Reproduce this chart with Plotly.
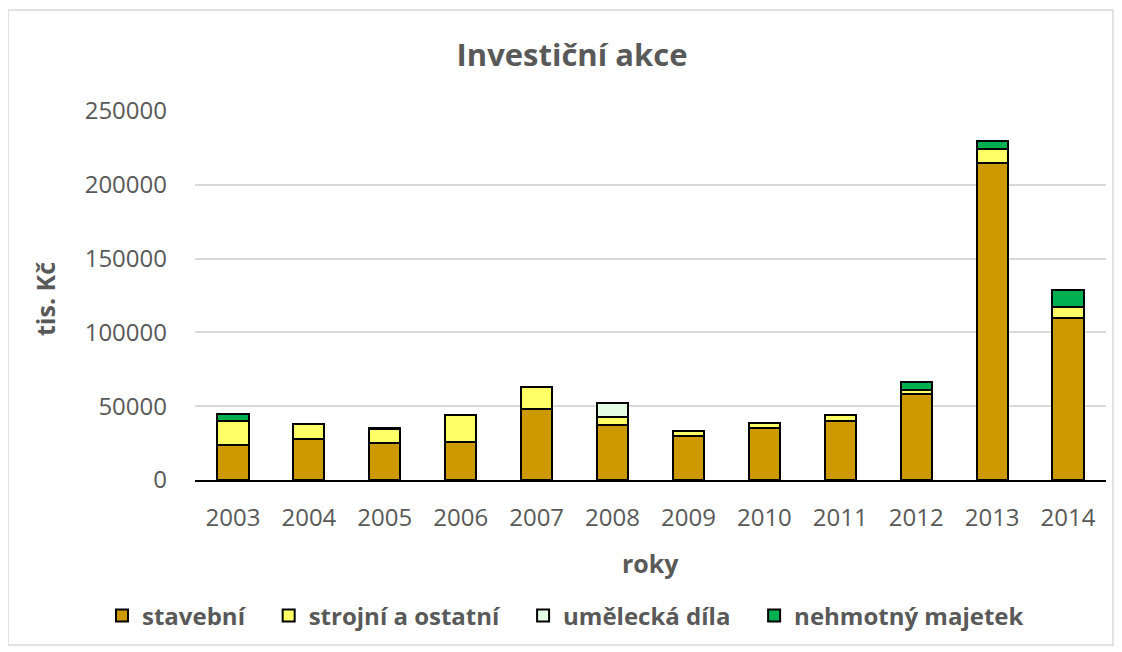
import plotly.graph_objects as go

roky = ['2003', '2004', '2005', '2006', '2007', '2008',
        '2009', '2010', '2011', '2012', '2013', '2014']

stavebni = [24000, 27500, 25000, 25900, 47800, 37000,
            30000, 35000, 40000, 58600, 215000, 110000]
strojni = [16000, 10500, 9300, 18000, 14900, 5400,
           3500, 3700, 4300, 2700, 9500, 7000]
umelecka = [0, 0, 0, 0, 0, 10000,
            0, 0, 0, 0, 0, 0]
nehmotny = [4600, 0, 800, 0, 0, 0,
            0, 0, 0, 5000, 5200, 11500]

y_ticks = [0, 50000, 100000, 150000, 200000, 250000]

font_name = 'Open Sans'
grey = '#595959'
pad = '\u00a0' * 3

series = [('stavební' + pad, stavebni, '#CC9900'),
          ('strojní a ostatní' + pad, strojni, '#FFFF66'),
          ('umělecká díla' + pad, umelecka, '#E5FFE5'),
          ('nehmotný majetek', nehmotny, '#00B050')]

# plot area in figure pixels (page is shifted by the 8px body margin)
W, H = 1114, 644
L, R, T, B = 187, 1098, 103, 472
pw, ph = R - L, B - T

fig = go.Figure()
for name, vals, col in series:
    fig.add_trace(go.Bar(x=roky, y=vals, name=name,
                         marker={'color': col, 'line': {'color': 'black', 'width': 2}}))

fig.update_layout(
    barmode='stack',
    bargap=0.59,
    width=W, height=H,
    margin={'l': L, 'r': W - R, 't': T, 'b': H - B},
    plot_bgcolor='white', paper_bgcolor='white',
    font={'family': font_name, 'size': 24, 'color': grey},
    title={'text': '<b>Investiční akce</b>', 'x': 564 / W, 'xanchor': 'center',
           'y': 1 - 47 / H, 'yanchor': 'middle',
           'font': {'size': 31, 'color': grey, 'family': font_name}},
    showlegend=True,
    legend={'orientation': 'h',
            'x': (94 - L) / pw, 'xanchor': 'left',
            'y': (B - 608) / ph, 'yanchor': 'middle',
            'bgcolor': 'rgba(0,0,0,0)',
            'font': {'size': 24, 'color': grey, 'family': font_name, 'weight': 'bold'},
            'traceorder': 'normal', 'itemwidth': 30},
)

fig.update_xaxes(showline=True, linecolor='black', linewidth=2,
                 ticks='', ticklabelstandoff=15,
                 tickfont={'size': 24, 'color': grey})
fig.update_yaxes(range=[0, 250000], tickvals=y_ticks, tickformat='d',
                 showgrid=True, gridcolor='#D9D9D9', gridwidth=1.5,
                 zeroline=False, ticks='', ticklabelstandoff=27,
                 tickfont={'size': 24, 'color': grey})

# axis titles
fig.add_annotation(text='<b>roky</b>', xref='paper', yref='paper',
                   x=(642 - L) / pw, y=(B - 555) / ph,
                   xanchor='center', yanchor='middle',
                   showarrow=False, font={'size': 25, 'color': grey})
fig.add_annotation(text='<b>tis. Kč</b>', xref='paper', yref='paper',
                   x=(37 - L) / pw, y=(B - 291) / ph, textangle=-90,
                   xanchor='center', yanchor='middle',
                   showarrow=False, font={'size': 25, 'color': grey})

# chart border
fig.add_shape(type='rect', xref='paper', yref='paper',
              x0=(0 - L) / pw, x1=(1105 - L) / pw,
              y0=(B - 637) / ph, y1=(B - 2) / ph,
              line={'color': '#D9D9D9', 'width': 1.5}, layer='below')

fig.write_html('out.html')
